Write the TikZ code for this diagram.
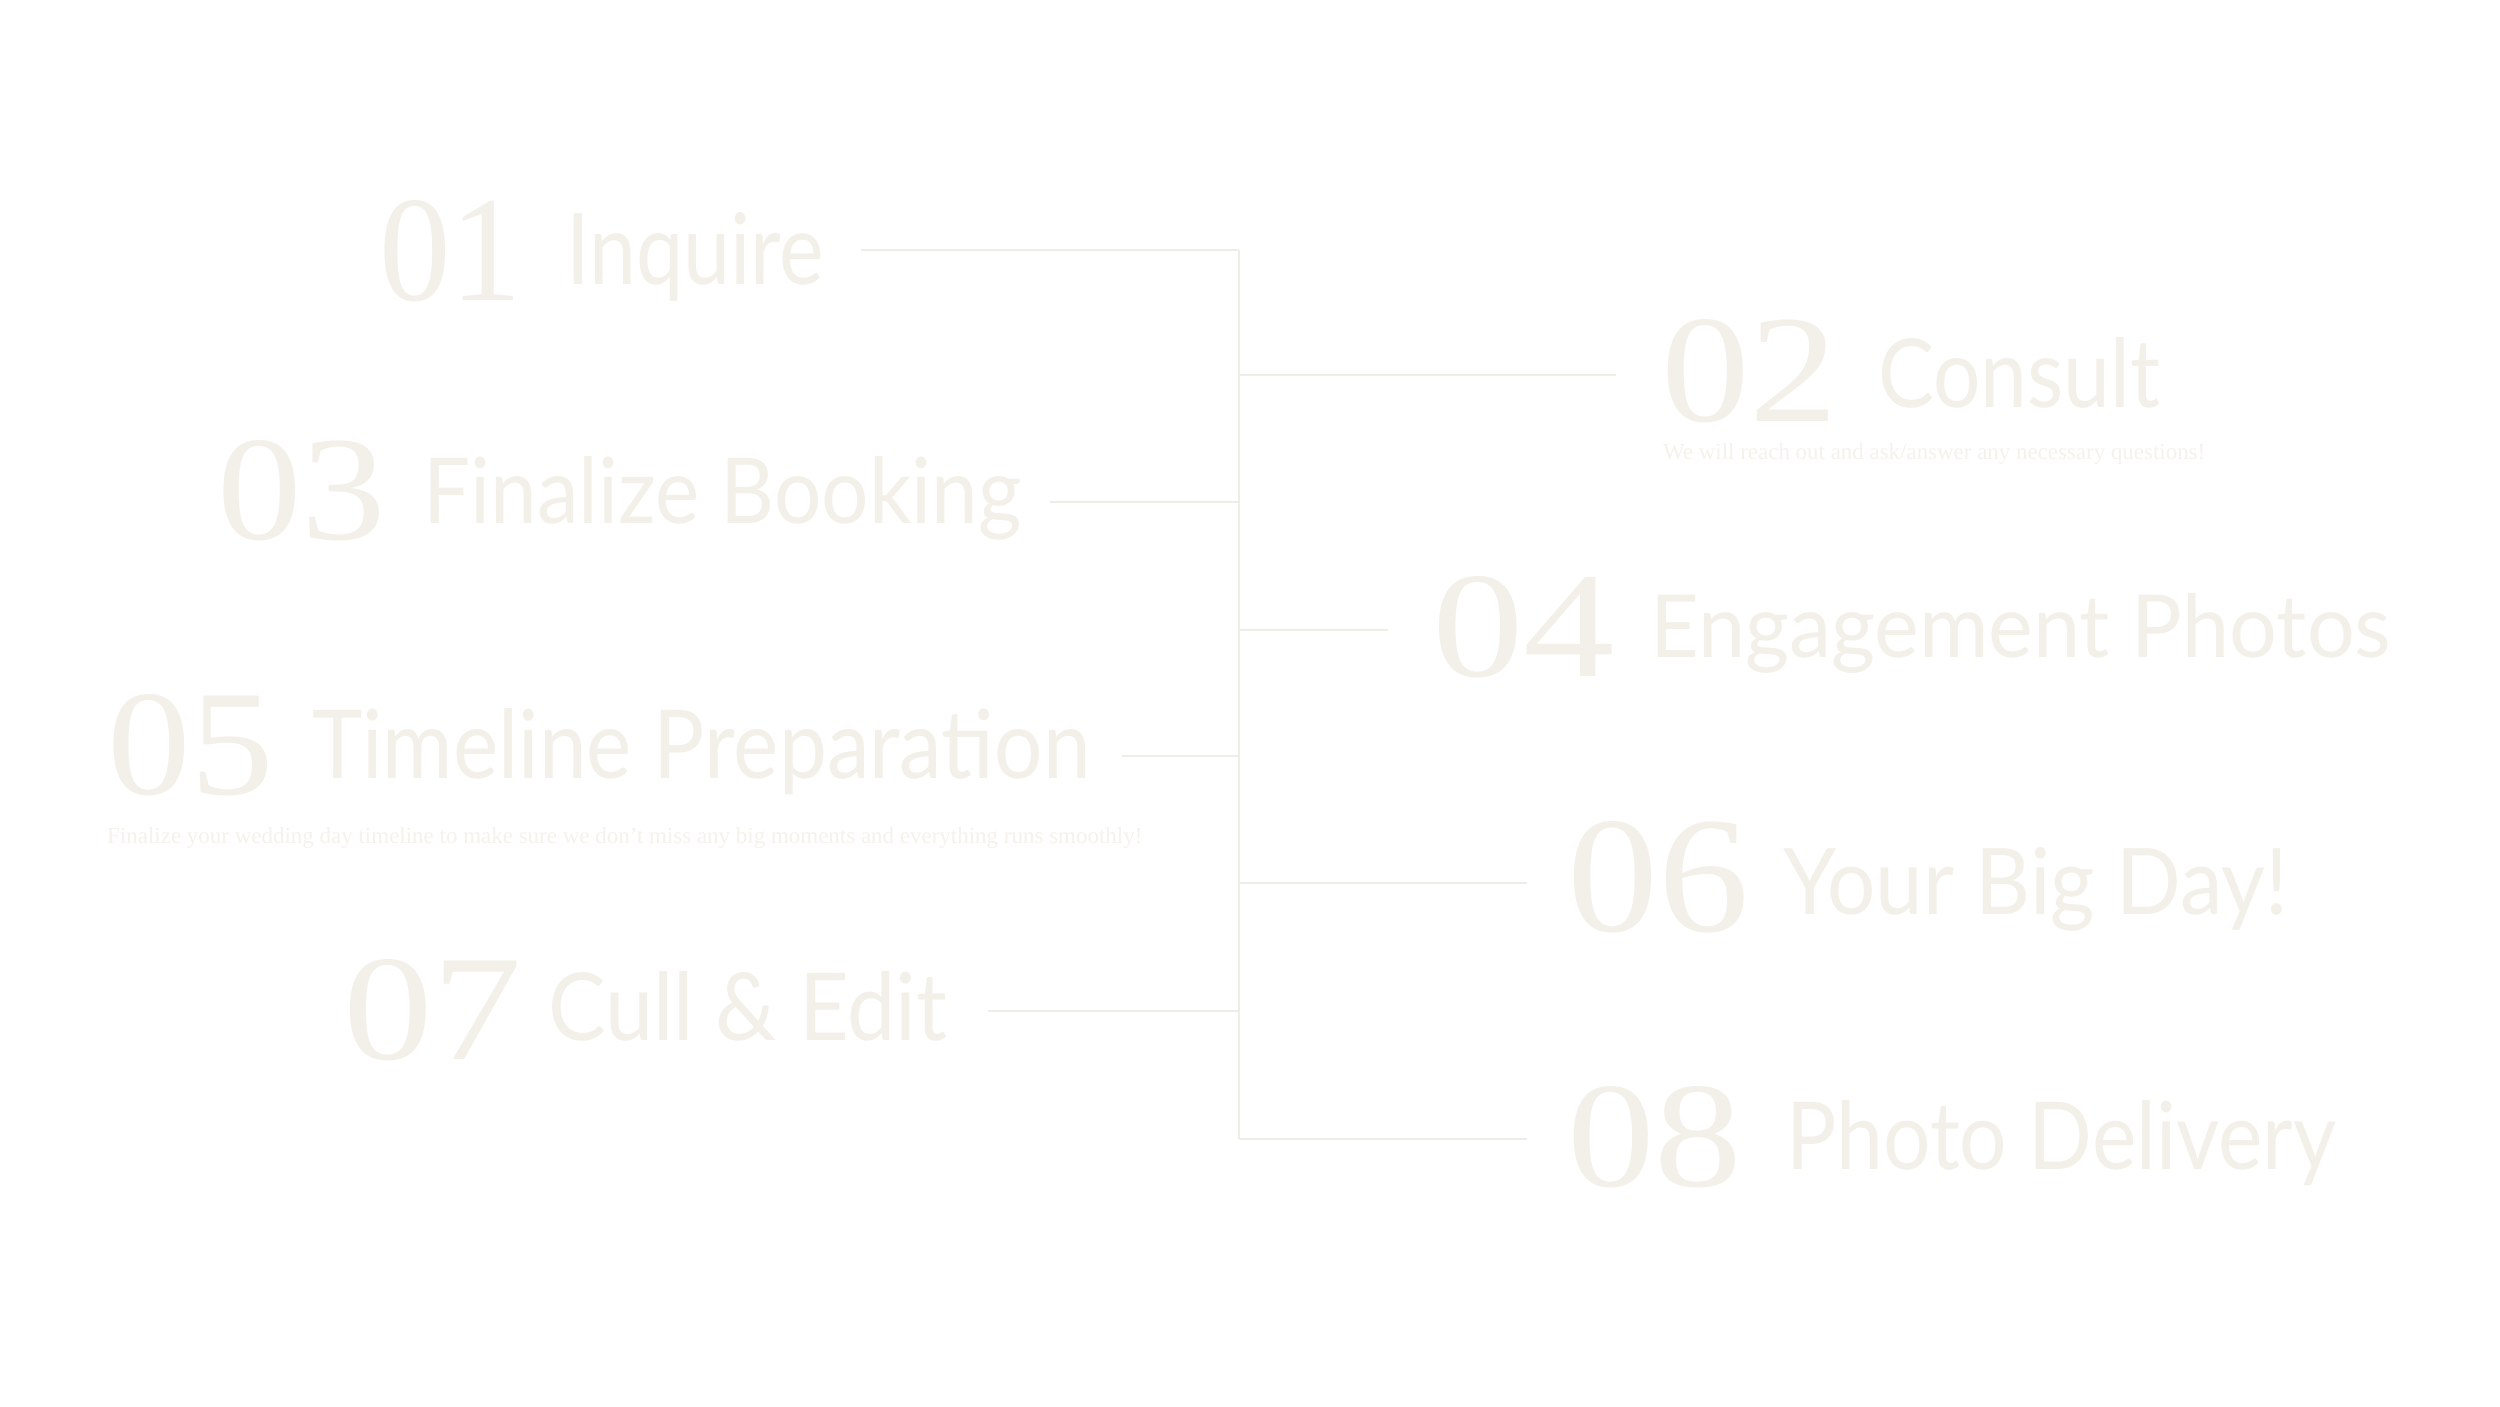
\documentclass[tikz,border=0pt]{standalone}
\usepackage{fontspec}
\usepackage{graphicx}
\setmainfont{Liberation Serif}
\newfontfamily\wordfont{Lato}
\definecolor{txt}{HTML}{F3F0E9}
\definecolor{ln}{HTML}{EFEDE8}
\definecolor{sm}{HTML}{F5F2EC}
\tikzset{
  num/.style={anchor=base west,inner sep=0,text=txt},
  word/.style={anchor=base west,inner sep=0,text=txt,font=\wordfont},
  small/.style={anchor=base west,inner sep=0,text=sm},
  conn/.style={draw=ln,line width=2pt}
}
\newcommand{\fitbox}[3]{\resizebox{#1pt}{#2pt}{#3}}
\begin{document}
\begin{tikzpicture}[x=1pt,y=-1pt]
\useasboundingbox[fill=white] (0,0) rectangle (2500,1406);
% spine
\coordinate (top) at (1239,250);
\coordinate (bot) at (1239,1139);
\draw[conn] (top) -- (bot);
% left row ends
\coordinate (e1) at (861,250);  \coordinate (j1) at (1239,250);
\coordinate (e3) at (1050,502); \coordinate (j3) at (1239,502);
\coordinate (e5) at (1122,756); \coordinate (j5) at (1239,756);
\coordinate (e7) at (988,1011); \coordinate (j7) at (1239,1011);
\coordinate (e2) at (1616,375); \coordinate (j2) at (1239,375);
\coordinate (e4) at (1388,630); \coordinate (j4) at (1239,630);
\coordinate (e6) at (1527,883); \coordinate (j6) at (1239,883);
\coordinate (e8) at (1527,1139);\coordinate (j8) at (1239,1139);
\foreach \i in {1,...,8} \draw[conn] (e\i) -- (j\i);
% row 1
\node[num] (n1) at (379,300) {\fitbox{143}{100}{01}};
\node[word] (w1) at (566,284) {\fitbox{258}{72}{Inquire}};
% row 2
\node[num] (n2) at (1661,421) {\fitbox{177}{102}{02}};
\node[word] (w2) at (1878,407) {\fitbox{282}{70}{Consult}};
\node[small] (s2) at (1663,459) {\resizebox{542pt}{!}{We will reach out and ask/answer any necessary questions!}};
% row 3
\node[num] (n3) at (217,539) {\fitbox{169}{99}{03}};
\node[word] (w3) at (423,523) {\fitbox{598}{67}{Finalize Booking}};
% row 4
\node[num] (n4) at (1432,676) {\fitbox{183}{100}{04}};
\node[word] (w4) at (1650,657) {\fitbox{741}{64}{Engagement Photos}};
% row 5
\node[num] (n5) at (107,794) {\fitbox{167}{100}{05}};
\node[word] (w5) at (312,778) {\fitbox{778}{70}{Timeline Preparation}};
\node[small] (s5) at (107,843) {\resizebox{1035pt}{!}{Finalize your wedding day timeline to make sure we don't miss any big moments and everything runs smoothly!}};
% row 6
\node[num] (n6) at (1567,931) {\fitbox{182}{110}{06}};
\node[word] (w6) at (1783,914) {\fitbox{505}{67}{Your Big Day!}};
% row 7
\node[num] (n7) at (343,1059) {\fitbox{179}{100}{07}};
\node[word] (w7) at (548,1040) {\fitbox{399}{69}{Cull \& Edit}};
% row 8
\node[num] (n8) at (1567,1186) {\fitbox{175}{100}{08}};
\node[word] (w8) at (1786,1169) {\fitbox{550}{69}{Photo Delivery}};
\end{tikzpicture}
\end{document}
